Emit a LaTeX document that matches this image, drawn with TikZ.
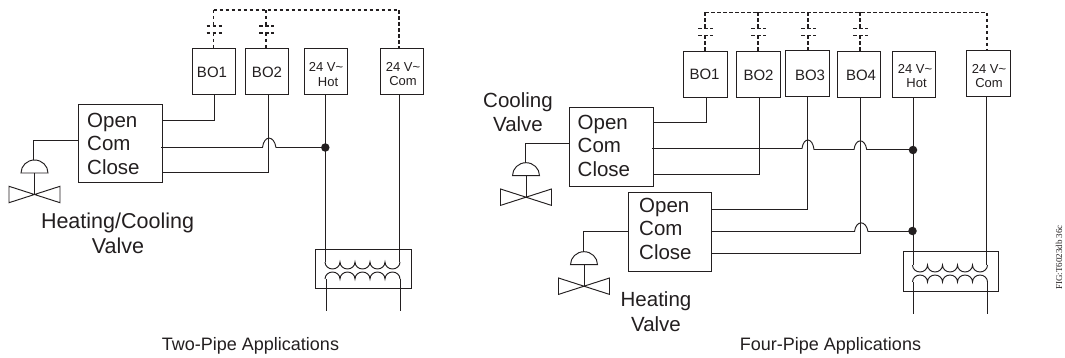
\documentclass[tikz,border=0pt]{standalone}
\usepackage{fontspec}
\setmainfont{Liberation Sans}
\newfontfamily\figfont{Liberation Serif}
\definecolor{ink}{HTML}{231F20}
\newcommand{\valvetie}[2]{% center x,y
  \draw[wire] (#1,#2) -- (#1-25.5,#2-8.2) -- (#1-25.5,#2+8.2) -- cycle;
  \draw[wire] (#1,#2) -- (#1+25.5,#2-8.2) -- (#1+25.5,#2+8.2) -- cycle;
}
\newcommand{\actuator}[2]{% dome centre x, dome top y, stem to valve
  \draw[wire] (#1-13.5,#2+13) arc[start angle=180,end angle=360,x radius=13.5,y radius=13] -- cycle;
  \draw[wire] (#1,#2+13) -- (#1,#2+34.5);
  \valvetie{#1}{#2+34.5}
}
\newcommand{\contact}[2]{% x, top bus y
  \draw[dash wire] (#1,#2) -- (#1,#2+16);
  \draw[dash wire] (#1-7,#2+16) -- (#1+8,#2+16);
  \draw[dash wire] (#1-7,#2+23) -- (#1+8,#2+23);
  \draw[dash wire] (#1,#2+23) -- (#1,#2+39);
}
\newcommand{\coils}[2]{% left x, top y ; span 75
  \draw[wire] (#1,#2) arc[start angle=180,end angle=0,x radius=7.5,y radius=7]
    foreach \k in {1,2,3,4} { arc[start angle=180,end angle=0,x radius=7.5,y radius=7] };
  \draw[wire] (#1,#2+17) arc[start angle=180,end angle=360,x radius=7.5,y radius=7]
    foreach \k in {1,2,3,4} { arc[start angle=180,end angle=360,x radius=7.5,y radius=7] };
}
\begin{document}
\begin{tikzpicture}[x=1pt,y=-1pt,
  wire/.style={line width=0.95pt,draw=ink},
  dash wire/.style={line width=1.6pt,draw=ink,dash pattern=on 3.5pt off 2.5pt},
  box/.style={draw=ink,line width=1pt,inner sep=0pt,minimum width=0pt},
  lbl/.style={inner sep=0pt,text=ink,anchor=base},
  big/.style={lbl,font=\fontsize{20.5}{24}\selectfont},
  wide/.style={lbl,font=\fontsize{21.5}{24}\selectfont},
  bo/.style={lbl,font=\fontsize{15}{18}\selectfont},
  small/.style={lbl,font=\fontsize{13}{15}\selectfont},
  capt/.style={lbl,font=\fontsize{18}{22}\selectfont},
  dot/.style={circle,fill=ink,inner sep=0pt,minimum size=8.5pt}]
\useasboundingbox (0,0) rectangle (1065,358);
\fill[white] (0,0) rectangle (1065,358);

% ---- left
\draw[box] (78,105) rectangle (162,183);
\draw[box] (192.5,49) rectangle (235.5,95);
\draw[box] (245,49) rectangle (288,95);
\draw[box] (304,49) rectangle (347,95);
\draw[box] (380,48.5) rectangle (423,94.5);
\node[big,anchor=base west] at (87,127.3) {Open};
\node[big,anchor=base west] at (87,150.7) {Com};
\node[big,anchor=base west] at (87,174.3) {Close};
\node[bo] at (212,77.7) {BO1};
\node[bo] at (267,77.7) {BO2};
\node[small] at (326,72) {24 V\textasciitilde};
\node[small] at (328,87) {Hot};
\node[small] at (403,72) {24 V\textasciitilde};
\node[small] at (403,86) {Com};
\node[wide] at (117.5,229) {Heating/Cooling};
\node[wide] at (118,253) {Valve};
\node[capt] at (250.5,350) {Two-Pipe Applications};

\draw[dash wire] (213.5,10) -- (399,10) -- (399,49);
\contact{213.5}{10}
\contact{266}{10}
\draw[wire] (162,120) -- (214.5,120) -- (214.5,95);
\draw[wire] (161,147.5) -- (262.5,147.5) .. controls (264,135) and (274,135) .. (276,147.5) -- (325,147.5);
\draw[wire] (162,172) -- (268,172) -- (268,95);
\draw[wire] (78,140.5) -- (33,140.5) -- (33,160);
\actuator{34.5}{160}
\draw[wire] (325,95) -- (325,262);
\draw[wire] (399.5,94.5) -- (399.5,262);
\node[dot] at (325.3,147.5) {};
\draw[wire] (315.3,249) rectangle (411,288);
\coils{325}{262}
\draw[wire] (326,279) -- (326,311);
\draw[wire] (400,279) -- (400,311);

% ---- right
\draw[box] (569.7,107.7) rectangle (653.3,186.3);
\draw[box] (628.3,192.7) rectangle (711,271.7);
\draw[box] (683.7,51.7) rectangle (727.7,98);
\draw[box] (736.3,52) rectangle (780,98);
\draw[box] (785.7,51) rectangle (829.5,97);
\draw[box] (837.3,52) rectangle (880.5,98);
\draw[box] (892,52) rectangle (935,98);
\draw[box] (966.7,51) rectangle (1010,97);
\foreach \ty/\tx in {129.7/Open,153/Com,176.7/Close} \node[big,anchor=base west] at (577.5,\ty) {\tx};
\foreach \ty/\tx in {212/Open,236/Com,259/Close} \node[big,anchor=base west] at (639,\ty) {\tx};
\node[bo] at (704.5,80) {BO1};
\node[bo] at (758.5,81) {BO2};
\node[bo] at (810,81) {BO3};
\node[bo] at (861,81) {BO4};
\node[small] at (915,74) {24 V\textasciitilde};
\node[small] at (916.5,88) {Hot};
\node[small] at (989,74) {24 V\textasciitilde};
\node[small] at (989,88) {Com};
\node[big] at (518,108) {Cooling};
\node[big] at (518,132) {Valve};
\node[big] at (656,306) {Heating};
\node[big] at (656,331) {Valve};
\node[capt] at (830.5,350) {Four-Pipe Applications};
\node[inner sep=0pt,text=ink,rotate=90,anchor=base west,font=\figfont\fontsize{9}{10}\selectfont] at (1062,290) {FIG:T6023db 36c};

\draw[dash wire] (705,12.5) -- (986.7,12.5) -- (986.7,51);
\contact{705}{12.5}
\contact{758}{12.5}
\contact{808}{12.5}
\contact{860}{12.5}
\draw[wire] (653.3,122) -- (706,122) -- (706,98);
\draw[wire] (652,148.5) -- (802,148.5) .. controls (803.5,137) and (812.5,137) .. (814,149.5) -- (854,149.5) .. controls (855.5,138) and (865,138) .. (866.7,149.5) -- (913,149.5);
\draw[wire] (653.3,174.3) -- (759.5,174.3) -- (759.5,98);
\draw[wire] (807.3,97) -- (807.3,209.5) -- (711,209.5);
\draw[wire] (860.5,98) -- (860.5,253.5) -- (711,253.5);
\draw[wire] (711,231.5) -- (854.5,231.5) .. controls (856,220) and (866,220) .. (868,231.5) -- (912.5,231.5);
\draw[wire] (569.7,143) -- (525.3,143) -- (525.3,162.7);
\actuator{526}{162.7}
\draw[wire] (628.3,231.7) -- (583.3,231.7) -- (583.3,251.7);
\actuator{584}{251.7}
\draw[wire] (913,98) -- (913,265);
\draw[wire] (986.7,97) -- (986.7,265);
\node[dot] at (913,150) {};
\node[dot] at (912.5,231) {};
\draw[wire] (903,251.5) rectangle (998.5,291);
\coils{912.5}{265}
\draw[wire] (913,282) -- (913,313.5);
\draw[wire] (987,282) -- (987,313.5);
\end{tikzpicture}
\end{document}
